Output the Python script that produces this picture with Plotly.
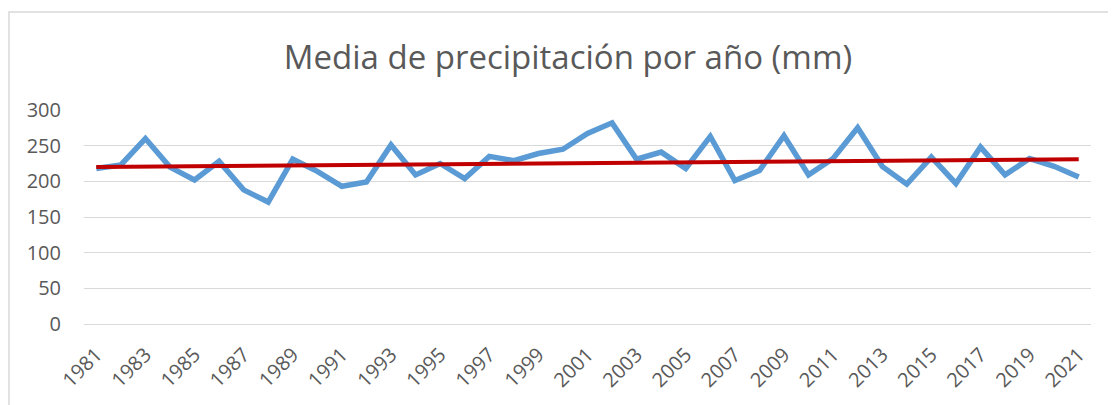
import numpy as np
import plotly.graph_objects as go

years = list(range(1981, 2022))
precip = [218, 223, 260, 220, 202, 228, 188, 171, 231, 214, 193, 199, 251, 209,
          225, 204, 235, 229, 239, 245, 267, 282, 231, 241, 218, 263, 201, 215,
          264, 209, 232, 275, 221, 196, 234, 197, 248, 209, 232, 221, 206]
tick_years = [str(y) for y in years[::2]]
y_ticks = [0, 50, 100, 150, 200, 250, 300]

cats = [str(y) for y in years]
idx = np.arange(len(years))
slope, intercept = np.polyfit(idx, precip, 1)
trend = list(intercept + slope * idx)

GRAY = "#595959"
FONT = "Open Sans"

fig = go.Figure()
fig.add_trace(go.Scatter(x=cats, y=precip, mode="lines",
                         line=dict(color="#5B9BD5", width=5.5, shape="linear"),
                         showlegend=False, hoverinfo="x+y"))
fig.add_trace(go.Scatter(x=cats, y=trend, mode="lines",
                         line=dict(color="#C00000", width=4),
                         showlegend=False, hoverinfo="skip"))

# the page body adds an 8px offset; margins are given in figure coordinates
W, H = 1116, 405
L, R, T, B = 76, 33, 102, 89
pw = W - L - R
ph = H - T - B

fig.update_layout(
    width=W, height=H,
    margin=dict(l=L, r=R, t=T, b=B, pad=0),
    paper_bgcolor="white", plot_bgcolor="white",
    font=dict(family=FONT, color=GRAY, size=20),
    title=dict(text="Media de precipitación por año (mm)",
               font=dict(family=FONT, size=33, color=GRAY),
               xref="container", yref="container",
               x=560 / W, xanchor="center",
               y=1 - 49 / H, yanchor="middle"),
    xaxis=dict(type="category", categoryorder="array", categoryarray=cats,
               range=[-0.5, len(cats) - 0.5], automargin=False,
               tickmode="array", tickvals=tick_years, ticktext=tick_years,
               tickangle=-45, showgrid=False, showline=False, zeroline=False,
               ticks="", ticklen=0, ticklabelstandoff=14,
               tickfont=dict(size=20, color=GRAY)),
    yaxis=dict(range=[0, 300], tickmode="array", tickvals=y_ticks,
               automargin=False,
               showgrid=True, gridcolor="#D9D9D9", gridwidth=1.3,
               zeroline=True, zerolinecolor="#D9D9D9", zerolinewidth=1.3,
               showline=False, ticks="", ticklabelstandoff=22,
               tickfont=dict(size=20, color=GRAY)),
    shapes=[dict(type="rect", xref="paper", yref="paper",
                 x0=(1 - L) / pw, x1=(W + 20 - L) / pw,
                 y0=-(B + 20) / ph, y1=(H - 4 - B) / ph,
                 line=dict(color="#D9D9D9", width=1.5),
                 fillcolor="rgba(0,0,0,0)", layer="below")],
)

fig.write_html("out.html")
